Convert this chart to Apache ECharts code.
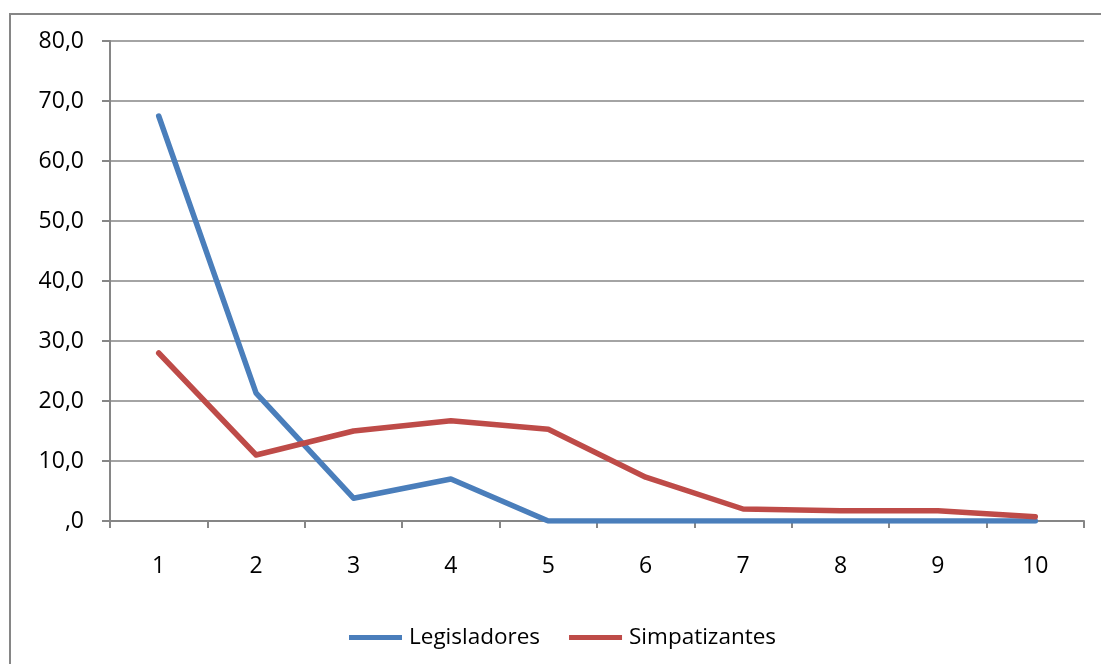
<!DOCTYPE html>
<html><head><meta charset="utf-8">
<script src="https://cdn.jsdelivr.net/npm/echarts@6/dist/echarts.min.js"></script>
<style>html,body{margin:0;padding:0;background:#fff}#c{width:1101px;height:664px}</style>
</head><body><div id="c"></div>
<script>
const categories = ['1','2','3','4','5','6','7','8','9','10'];
const legisladores = [67.5, 21.3, 3.8, 7.0, 0, 0, 0, 0, 0, 0];
const simpatizantes = [28.0, 11.0, 15.0, 16.7, 15.3, 7.3, 2.0, 1.7, 1.7, 0.7];
const seriesNames = ['Legisladores', 'Simpatizantes'];

const FONT = '"Open Sans", "Noto Sans", sans-serif';
const GRAY = '#868686';
const chart = echarts.init(document.getElementById('c'), null, {renderer: 'canvas'});
chart.setOption({
  animation: false,
  backgroundColor: '#fff',
  graphic: [{type: 'rect', shape: {x: 10, y: 14, width: 1200, height: 700}, style: {fill: 'none', stroke: GRAY, lineWidth: 2}, silent: true, z: -1}],
  grid: {left: 110, right: 17, top: 41, bottom: 143, containLabel: false},
  legend: {
    top: 621, left: 349, padding: [5, 0, 5, 0], itemWidth: 53, itemHeight: 5, itemGap: 29,
    icon: 'rect',
    textStyle: {fontFamily: FONT, fontSize: 22.5, color: '#000', padding: [0, 0, 0, 2]},
    data: seriesNames
  },
  xAxis: {
    type: 'category', data: categories, boundaryGap: true,
    axisLine: {lineStyle: {color: GRAY, width: 2}},
    axisTick: {show: true, interval: 0, length: 7, lineStyle: {color: GRAY, width: 2}},
    axisLabel: {fontFamily: FONT, fontSize: 23, color: '#000', margin: 34}
  },
  yAxis: {
    type: 'value', min: 0, max: 80, interval: 10,
    axisLine: {show: true, lineStyle: {color: GRAY, width: 2}},
    axisTick: {show: true, length: 8, lineStyle: {color: GRAY, width: 2}},
    splitLine: {lineStyle: {color: GRAY, width: 1.5}},
    axisLabel: {fontFamily: FONT, fontSize: 23, color: '#000', margin: 26,
      formatter: v => v === 0 ? ',0' : v.toFixed(1).replace('.', ',')}
  },
  series: [
    {name: seriesNames[0], type: 'line', data: legisladores, symbol: 'none', color: '#4A7EBB',
      lineStyle: {width: 5.5, color: '#4A7EBB', cap: 'round', join: 'round'}},
    {name: seriesNames[1], type: 'line', data: simpatizantes, symbol: 'none', color: '#BE4B48',
      lineStyle: {width: 5.5, color: '#BE4B48', cap: 'round', join: 'round'}}
  ]
});
</script></body></html>
